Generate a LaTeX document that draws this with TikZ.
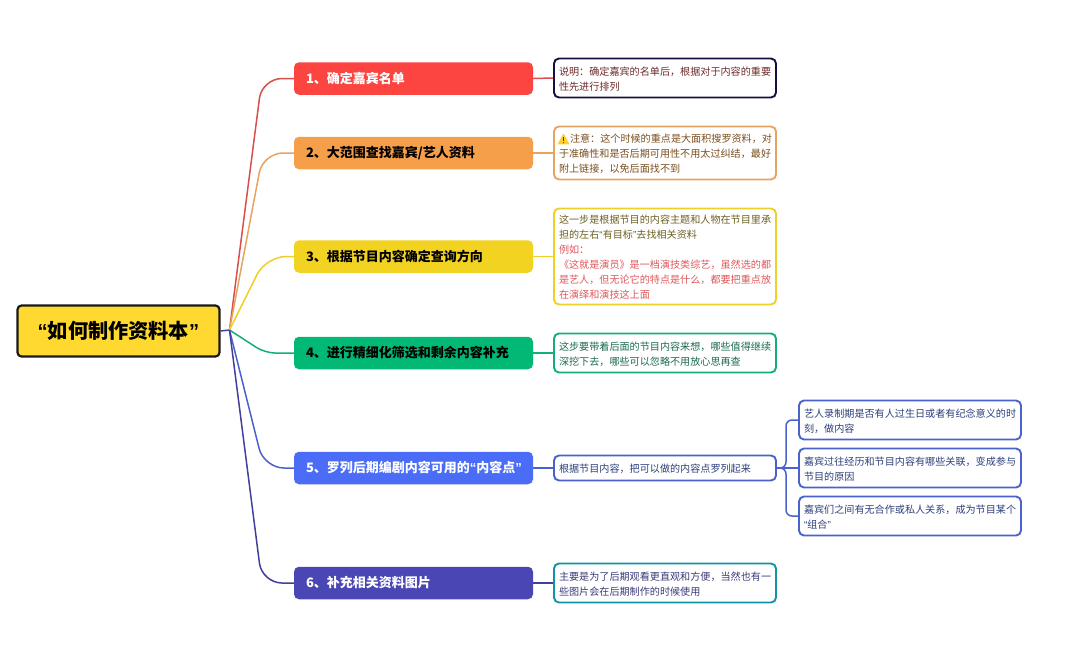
\documentclass[tikz,border=0pt]{standalone}
\usepackage{fontspec}
\setmainfont{Noto Sans CJK SC}
\newfontfamily\qfont{Liberation Sans}
\newcommand{\qo}{{\qfont “}}
\newcommand{\qc}{{\qfont ”}}
\definecolor{cRoot}{HTML}{FFD92F}
\definecolor{cA}{HTML}{FC4540}
\definecolor{cB}{HTML}{F69F4B}
\definecolor{cC}{HTML}{F3D321}
\definecolor{cD}{HTML}{02B875}
\definecolor{cE}{HTML}{4A6CF7}
\definecolor{cF}{HTML}{4A47B5}
\definecolor{lA}{HTML}{D8504C}
\definecolor{lB}{HTML}{E8A45E}
\definecolor{lC}{HTML}{EFCF28}
\definecolor{lD}{HTML}{12AE7C}
\definecolor{lE}{HTML}{4A62CC}
\definecolor{lF}{HTML}{423F9E}
\definecolor{nA}{HTML}{15103F}
\definecolor{nF}{HTML}{1393A8}
\definecolor{tA}{HTML}{6E2A2A}
\definecolor{tB}{HTML}{7A4E1E}
\definecolor{tC}{HTML}{6B6020}
\definecolor{tCr}{HTML}{E0575A}
\definecolor{tD}{HTML}{1B6B52}
\definecolor{tE}{HTML}{2D3F7A}
\definecolor{tF}{HTML}{3A3A7A}
\tikzset{
  rootbox/.style={draw=black!90,line width=2.2pt,fill=cRoot,rounded corners=4pt,minimum width=202pt,minimum height=51pt,inner sep=0pt,font=\fontsize{20.2}{24}\selectfont\bfseries},
  topicbox/.style={rounded corners=5pt,minimum width=239pt,minimum height=32.5pt,inner xsep=12pt,inner ysep=0pt,text width=215pt,align=left,font=\fontsize{13}{16}\selectfont\bfseries},
  notebox/.style={draw,fill=white,line width=1.9pt,rounded corners=5pt,minimum width=222pt,inner xsep=0pt,inner ysep=2pt,text width=212pt,text height=10.5pt,align=left,font=\fontsize{10.1}{15}\selectfont},
  branch/.style={line width=1.5pt,rounded corners=20pt},
  link/.style={line width=1.5pt},
  sublink/.style={line width=1.5pt,draw=lE,rounded corners=6pt}
}
\begin{document}
\begin{tikzpicture}[x=1pt,y=-1pt]
\useasboundingbox[fill=white] (0,0) rectangle (1080,648);
\node[rootbox] (root) at (118.5,331) {\qo 如何制作资料本\qc};
\coordinate (hub) at (229.5,330);
\node[topicbox,fill=cA,text=white] (t1) at (413.5,78.5) {1、确定嘉宾名单};
\node[topicbox,fill=cB,text=black] (t2) at (413.5,153) {2、大范围查找嘉宾/艺人资料};
\node[topicbox,fill=cC,text=black] (t3) at (413.5,256.5) {3、根据节目内容确定查询方向};
\node[topicbox,fill=cD,text=black] (t4) at (413.5,353) {4、进行精细化筛选和剩余内容补充};
\node[topicbox,fill=cE,text=white] (t5) at (413.5,468) {5、罗列后期编剧内容可用的\qo 内容点\qc};
\node[topicbox,fill=cF,text=white] (t6) at (413.5,583) {6、补充相关资料图片};

\node[notebox,draw=nA,text=tA,minimum height=39pt] (n1) at (665,78) {说明：确定嘉宾的名单后，根据对于内容的重要\\性先进行排列};
\node[notebox,draw=lB,text=tB,minimum height=53pt] (n2) at (665,153) {\hspace*{11pt}注意：这个时候的重点是大面积搜罗资料，对\\于准确性和是否后期可用性不用太过纠结，最好\\附上链接，以免后面找不到};
\node[notebox,draw=lC,text=tC,minimum height=96pt] (n3) at (665,256.5) {这一步是根据节目的内容主题和人物在节目里承\\担的左右\qo 有目标\qc 去找相关资料\\\color{tCr}例如：\\《这就是演员》是一档演技类综艺，虽然选的都\\是艺人，但无论它的特点是什么，都要把重点放\\在演绎和演技这上面};
\node[notebox,draw=lD,text=tD,minimum height=39pt] (n4) at (665,353) {这步要带着后面的节目内容来想，哪些值得继续\\深挖下去，哪些可以忽略不用放心思再查};
\node[notebox,draw=lE,text=tE,minimum height=25pt] (n5) at (665,468) {根据节目内容，把可以做的内容点罗列起来};
\node[notebox,draw=nF,text=tF,minimum height=39pt] (n6) at (665,583) {主要是为了后期观看更直观和方便，当然也有一\\些图片会在后期制作的时候使用};

\node[notebox,draw=lE,text=tE,minimum height=39pt] (s1) at (910,420) {艺人录制期是否有人过生日或者有纪念意义的时\\刻，做内容};
\node[notebox,draw=lE,text=tE,minimum height=39pt] (s2) at (910,468) {嘉宾过往经历和节目内容有哪些关联，变成参与\\节目的原因};
\node[notebox,draw=lE,text=tE,minimum height=39pt] (s3) at (910,516) {嘉宾们之间有无合作或私人关系，成为节目某个\\\qo 组合\qc};

% warning sign
\fill[rounded corners=0.6pt,fill=cRoot!90!orange] (563.5,133.4) -- (569.6,144.4) -- (557.4,144.4) -- cycle;
\draw[line width=1pt,black!75] (563.5,136.8) -- (563.5,141);
\fill[black!75] (563.5,142.8) circle (0.6pt);

\draw[line width=1.5pt,lF] (root.east) -- (hub);
\draw[branch,lA] (hub) -- (262,78.5) -- (t1.west);
\draw[branch,lB] (hub) -- (263,153) -- (t2.west);
\draw[branch,lC] (hub) -- (266,256.5) -- (t3.west);
\draw[branch,lD,rounded corners=10pt] (hub) -- (265,353) -- (t4.west);
\draw[branch,lE] (hub) -- (264,468) -- (t5.west);
\draw[branch,lF] (hub) -- (262,583) -- (t6.west);

\draw[link,lA] (t1.east) -- (n1.west);
\draw[link,lB] (t2.east) -- (n2.west);
\draw[link,lC] (t3.east) -- (n3.west);
\draw[link,lD] (t4.east) -- (n4.west);
\draw[link,lE] (t5.east) -- (n5.west);
\draw[link,lF] (t6.east) -- (n6.west);

\draw[sublink] (n5.east) -- (s2.west);
\draw[sublink] (n5.east) -- (786,468) -- (786,420) -- (s1.west);
\draw[sublink] (n5.east) -- (786,468) -- (786,516) -- (s3.west);
\end{tikzpicture}
\end{document}
